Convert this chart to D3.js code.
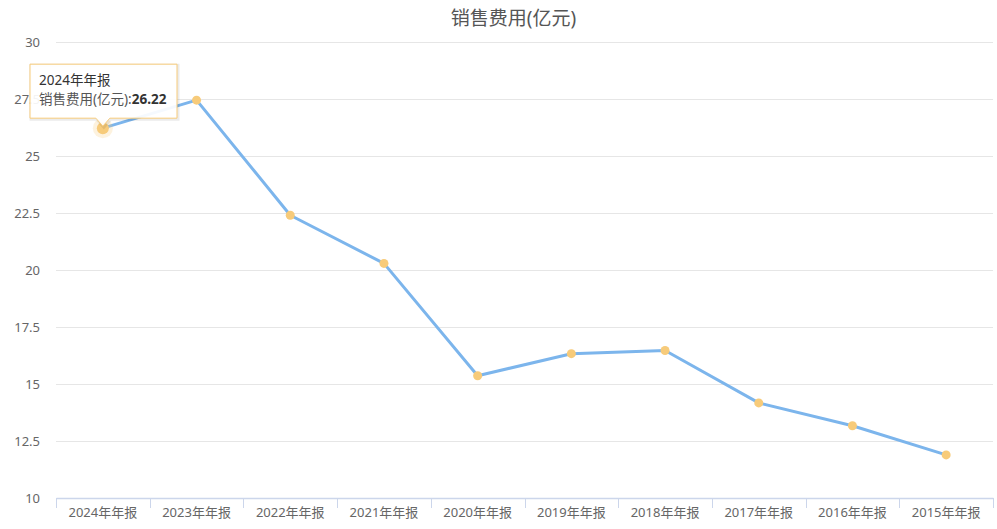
<!DOCTYPE html>
<html>
<head>
<meta charset="utf-8">
<script src="https://cdn.jsdelivr.net/npm/d3@7"></script>
<style>
  body { margin: 0; background: #fff; }
  svg { font-family: "Noto Sans", "Noto Sans CJK SC", sans-serif; }
</style>
</head>
<body>
<div id="chart"></div>
<script>
var categories = ["2024年年报", "2023年年报", "2022年年报", "2021年年报", "2020年年报",
                  "2019年年报", "2018年年报", "2017年年报", "2016年年报", "2015年年报"];
var values = [26.22, 27.45, 22.4, 20.29, 15.36, 16.33, 16.47, 14.17, 13.17, 11.89];
var yTicks = [10, 12.5, 15, 17.5, 20, 22.5, 25, 27.5, 30];
var title = "销售费用(亿元)";
var seriesName = "销售费用(亿元)";

var width = 997, height = 529;
var margin = {left: 56, right: 4, top: 42, bottom: 31};

var svg = d3.select("#chart").append("svg")
    .attr("width", width)
    .attr("height", height);

var xScale = d3.scaleBand()
    .domain(categories)
    .range([margin.left, width - margin.right]);

var yScale = d3.scaleLinear()
    .domain([10, 30])
    .range([height - margin.bottom, margin.top]);

// title
svg.append("text")
    .attr("x", width / 2 + 15)
    .attr("y", 25)
    .attr("text-anchor", "middle")
    .attr("fill", "#555")
    .style("font-size", "19px")
    .text(title);

// grid lines
svg.append("g")
    .selectAll("line")
    .data(yTicks)
    .enter()
    .append("line")
    .attr("x1", margin.left)
    .attr("x2", width - margin.right)
    .attr("y1", function(d) { return Math.round(yScale(d)) + 0.5 })
    .attr("y2", function(d) { return Math.round(yScale(d)) + 0.5 })
    .attr("stroke", "#e6e6e6")
    .attr("stroke-width", 1);

// y labels
svg.append("g")
    .selectAll("text")
    .data(yTicks)
    .enter()
    .append("text")
    .attr("x", 40)
    .attr("y", function(d) { return yScale(d) + 5 })
    .attr("text-anchor", "end")
    .attr("fill", "#666")
    .style("font-size", "13px")
    .text(function(d) { return d });

// x axis
var xAxis = d3.axisBottom(xScale).tickSize(0).tickPadding(10);
var gx = svg.append("g")
    .attr("transform", "translate(0," + (height - margin.bottom) + ")")
    .call(xAxis);
gx.select(".domain").attr("stroke", "#ccd6eb").attr("stroke-width", 1.5);
gx.selectAll("text").attr("fill", "#666").style("font-size", "13px")
    .style("font-family", "\"Noto Sans\", \"Noto Sans CJK SC\", sans-serif");

// band boundary ticks
var bounds = categories.map(function(c) { return xScale(c) });
bounds.push(xScale.range()[1]);
gx.selectAll(".bt")
    .data(bounds)
    .enter()
    .append("line")
    .attr("x1", function(d) { return Math.round(d) + 0.5 })
    .attr("x2", function(d) { return Math.round(d) + 0.5 })
    .attr("y1", 0)
    .attr("y2", 10)
    .attr("stroke", "#ccd6eb")
    .attr("stroke-width", 1);

var cx = function(i) { return xScale(categories[i]) + xScale.bandwidth() / 2 };

// line
var line = d3.line()
    .x(function(d, i) { return cx(i) })
    .y(function(d) { return yScale(d) });

svg.append("path")
    .datum(values)
    .attr("d", line)
    .attr("fill", "none")
    .attr("stroke", "#7cb5ec")
    .attr("stroke-width", 3)
    .attr("stroke-linejoin", "round");

// markers
svg.append("g")
    .selectAll("circle")
    .data(values)
    .enter()
    .append("circle")
    .attr("cx", function(d, i) { return cx(i) })
    .attr("cy", function(d) { return yScale(d) })
    .attr("r", function(d, i) { return i == 0 ? 6 : 4.5 })
    .attr("fill", "#f7cb7a");

// hover halo on first point
svg.append("circle")
    .attr("cx", cx(0))
    .attr("cy", yScale(values[0]))
    .attr("r", 10)
    .attr("fill", "#f7cb7a")
    .attr("opacity", 0.25);

// tooltip
var px = cx(0), py = yScale(values[0]);
var tw = 147, th = 54;
var tx = 30, ty = py - 10 - th;
var tip = svg.append("g");
var tipPath = "M" + tx + "," + ty +
    " h" + tw + " v" + th +
    " H" + (px + 7) + " L" + px + "," + (ty + th + 8) + " L" + (px - 7) + "," + (ty + th) +
    " H" + tx + " Z";
tip.append("path")
    .attr("d", tipPath)
    .attr("transform", "translate(1,1)")
    .attr("fill", "none")
    .attr("stroke", "#000")
    .attr("stroke-opacity", 0.08)
    .attr("stroke-width", 3);
tip.append("path")
    .attr("d", tipPath)
    .attr("fill", "#fff")
    .attr("fill-opacity", 0.92)
    .attr("stroke", "#f7cb7a")
    .attr("stroke-width", 1);
tip.append("text")
    .attr("x", tx + 9)
    .attr("y", ty + 21)
    .attr("fill", "#333")
    .style("font-size", "13.5px")
    .text(categories[0]);
var t2 = tip.append("text")
    .attr("x", tx + 9)
    .attr("y", ty + 40)
    .attr("fill", "#333")
    .style("font-size", "13.5px");
t2.append("tspan").attr("fill", "#555").text(seriesName + ":");
t2.append("tspan").style("font-weight", "bold").text(values[0]);
</script>
</body>
</html>
